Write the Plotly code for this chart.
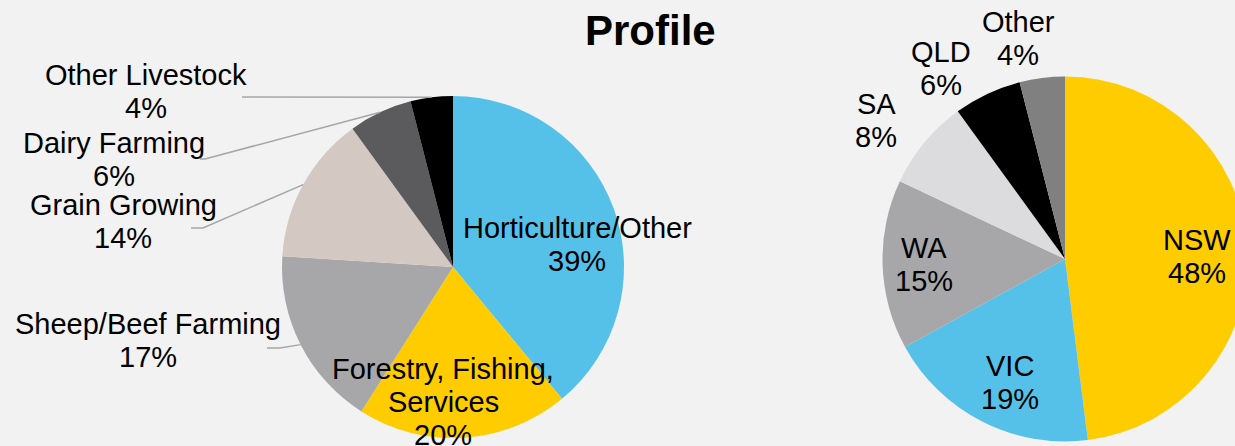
import math
import plotly.graph_objects as go

# Industry profile (left pie)
industry_labels = ["Horticulture/Other", "Forestry, Fishing, Services", "Sheep/Beef Farming",
                   "Grain Growing", "Dairy Farming", "Other Livestock"]
industry_values = [39, 20, 17, 14, 6, 4]
industry_colors = ["#56C1E8", "#FFCC00", "#A7A7A9", "#D4C8C3", "#5B5B5E", "#000000"]

# State profile (right pie)
state_labels = ["NSW", "VIC", "WA", "SA", "QLD", "Other"]
state_values = [48, 19, 15, 8, 6, 4]
state_colors = ["#FFCC00", "#56C1E8", "#A7A7A9", "#DCDCDE", "#000000", "#808080"]

W, H = 1250, 446
FONT = "Arial, Liberation Sans, sans-serif"
FS = 29
LINE_GAP = 33


def px(x):
    return x / W


def py(y):
    return 1 - y / H


# pie geometry in pixels: centre and radius
L_CX, L_CY, L_R = 453, 267, 171
R_CX, R_CY, R_R = 1065, 259, 182.5

fig = go.Figure()
fig.add_trace(go.Pie(
    labels=industry_labels, values=industry_values, sort=False,
    direction="clockwise", rotation=0, textinfo="none", hoverinfo="label+percent",
    marker=dict(colors=industry_colors, line=dict(width=0)),
    domain=dict(x=[px(L_CX - L_R), px(L_CX + L_R)], y=[py(L_CY + L_R), py(L_CY - L_R)]),
    showlegend=False,
))
fig.add_trace(go.Pie(
    labels=state_labels, values=state_values, sort=False,
    direction="clockwise", rotation=0, textinfo="none", hoverinfo="label+percent",
    marker=dict(colors=state_colors, line=dict(width=0)),
    domain=dict(x=[px(R_CX - R_R), px(R_CX + R_R)], y=[py(R_CY + R_R), py(R_CY - R_R)]),
    showlegend=False,
))

wrapped = {"Forestry, Fishing, Services": ["Forestry, Fishing,", "Services"]}

# label placement: (centre x, y of first line) in pixels
industry_pos = {
    "Horticulture/Other": (577, 228),
    "Forestry, Fishing, Services": (443, 369),
    "Sheep/Beef Farming": (148, 324),
    "Grain Growing": (123, 205),
    "Dairy Farming": (114, 143),
    "Other Livestock": (146, 75),
}
state_pos = {
    "NSW": (1197, 240),
    "VIC": (1010, 366),
    "WA": (924, 248),
    "SA": (876, 104),
    "QLD": (941, 52),
    "Other": (1018, 22),
}

annotations = []


def add_label(name, value, pos):
    lines = wrapped.get(name, [name]) + [f"{value}%"]
    x0, y0 = pos
    for i, line in enumerate(lines):
        annotations.append(dict(
            x=px(x0), y=py(y0 + i * LINE_GAP), xref="paper", yref="paper",
            text=line, showarrow=False, xanchor="center", yanchor="middle",
            font=dict(family=FONT, size=FS, color="#000000"),
        ))


for n, v in zip(industry_labels, industry_values):
    add_label(n, v, industry_pos[n])
for n, v in zip(state_labels, state_values):
    add_label(n, v, state_pos[n])

annotations.append(dict(
    x=px(650), y=py(31), xref="paper", yref="paper", text="<b>Profile</b>",
    showarrow=False, xanchor="center", yanchor="middle",
    font=dict(family=FONT, size=42, color="#000000"),
))

# leader lines for the outside labels, ending at each slice's mid-angle on the rim
leader_start = {
    "Sheep/Beef Farming": [(267, 348), (280, 348)],
    "Grain Growing": [(191, 228), (203, 228)],
    "Dairy Farming": [(200, 159), (205, 159)],
    "Other Livestock": [(242, 97)],
}
total = sum(industry_values)
cum = 0
shapes = []
for n, v in zip(industry_labels, industry_values):
    mid = (cum + v / 2) / total * 2 * math.pi
    cum += v
    if n not in leader_start:
        continue
    ex = L_CX + L_R * math.sin(mid)
    ey = L_CY - L_R * math.cos(mid)
    pts = leader_start[n] + [(ex, ey)]
    path = "M " + " L ".join(f"{px(a):.5f},{py(b):.5f}" for a, b in pts)
    shapes.append(dict(type="path", path=path, xref="paper", yref="paper",
                       line=dict(color="#A6A6A6", width=1.5)))

fig.update_layout(
    width=W, height=H, autosize=False,
    margin=dict(l=0, r=0, t=0, b=0),
    paper_bgcolor="#F2F2F2", plot_bgcolor="#F2F2F2",
    annotations=annotations, shapes=shapes,
    font=dict(family=FONT),
)

fig.write_html(
    "out.html",
    post_script="document.documentElement.style.overflow='hidden';"
                "document.body.style.overflow='hidden';document.body.style.margin='0';",
)
